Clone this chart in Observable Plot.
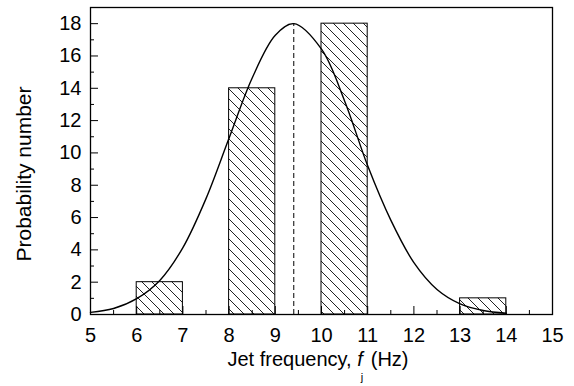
<!DOCTYPE html>
<html><head><meta charset="utf-8">
<script src="https://cdn.jsdelivr.net/npm/d3@7"></script>
<script src="https://cdn.jsdelivr.net/npm/@observablehq/plot@0.6"></script>
<style>body{margin:0;background:#fff} svg{display:block}</style>
</head><body>
<svg width="0" height="0" style="position:absolute">
<defs><pattern id="hatch" patternUnits="userSpaceOnUse" width="10" height="10">
<path d="M-2,-2 L12,12 M-2,8 L2,12 M8,-2 L12,2" stroke="#222" stroke-width="1" fill="none"/></pattern></defs></svg>
<div id="chart"></div>
<script>
// Histogram bins (Hz) and counts
const binStart = [6, 8, 10, 13];
const binEnd = [7, 9, 11, 14];
const counts = [2, 14, 18, 1];
// Fitted curve points
const fitX = [5, 5.5, 6, 6.5, 7, 7.5, 8, 8.5, 9, 9.4, 10, 10.5, 11, 11.5, 12, 12.5, 13, 13.5, 14];
const fitY = [0.13, 0.37, 0.98, 2.11, 4.14, 7.17, 10.92, 14.64, 17.28, 18, 16.42, 13.22, 9.2, 5.84, 3.21, 1.55, 0.66, 0.25, 0.08];
// Peak (dashed line)
const peakX = [9.4];
const peakY = 18;
// Ticks
const xMajor = [5, 6, 7, 8, 9, 10, 11, 12, 13, 14, 15];
const xMinor = [5.5, 6.5, 7.5, 8.5, 9.5, 10.5, 11.5, 12.5, 13.5, 14.5];
const yMajor = [0, 2, 4, 6, 8, 10, 12, 14, 16, 18];
const yMinor = [1, 3, 5, 7, 9, 11, 13, 15, 17];
const yLabel = "Probability number";

const bars = binStart.map((s, i) => ({x1: s, x2: binEnd[i], n: counts[i]}));
const curve = fitX.map((x, i) => ({x, y: fitY[i]}));

const font = "'Liberation Sans', Arial, Helvetica, sans-serif";
const plot = Plot.plot({
  width: 574, height: 386,
  marginLeft: 90, marginRight: 22, marginTop: 7, marginBottom: 72,
  style: {fontFamily: font, fontSize: "20px", color: "#000", background: "#fff"},
  x: {domain: [5, 15]},
  y: {domain: [0, 19]},
  marks: [
    Plot.rectY(bars, {x1: "x1", x2: "x2", y1: 0, y2: "n", fill: "url(#hatch)", stroke: "#000", strokeWidth: 1}),
    Plot.line(curve, {x: "x", y: "y", curve: "catmull-rom", stroke: "#000", strokeWidth: 1.4}),
    Plot.ruleX(peakX, {y1: 0, y2: peakY, stroke: "#000", strokeWidth: 1, strokeDasharray: "5,3"}),
    Plot.frame({stroke: "#000", strokeWidth: 1.3}),
    Plot.axisX(xMajor, {tickSize: 8, dy: -8, fill: "none", label: null}),
    Plot.axisX(xMinor, {tickSize: 4, dy: -4, fill: "none", label: null}),
    Plot.axisX(xMajor, {tickSize: 0, tickPadding: 13, label: null}),
    Plot.axisY(yMajor, {tickSize: 8, dx: 8, fill: "none", label: null}),
    Plot.axisY(yMinor, {tickSize: 4, dx: 4, fill: "none", label: null}),
    Plot.axisY(yMajor, {tickSize: 0, tickPadding: 9, label: null}),
    Plot.text([yLabel], {text: d => d, frameAnchor: "left", textAnchor: "middle", lineAnchor: "middle", dx: -66, dy: 13, rotate: -90, fontSize: 21})
  ]
});
document.getElementById("chart").appendChild(plot);

// x-axis label with italic f and subscript j
const svg = d3.select(plot);
const t = svg.append("text")
  .attr("x", 318).attr("y", 366)
  .attr("text-anchor", "middle")
  .attr("font-family", font).attr("font-size", 20).attr("fill", "#000");
t.append("tspan").text("Jet frequency, ");
t.append("tspan").attr("font-style", "italic").text("f");
t.append("tspan").attr("font-size", 11).attr("dy", 15).attr("dx", -2).text("j");
t.append("tspan").attr("dy", -15).attr("dx", 2).text(" (Hz)");
</script>
</body></html>
